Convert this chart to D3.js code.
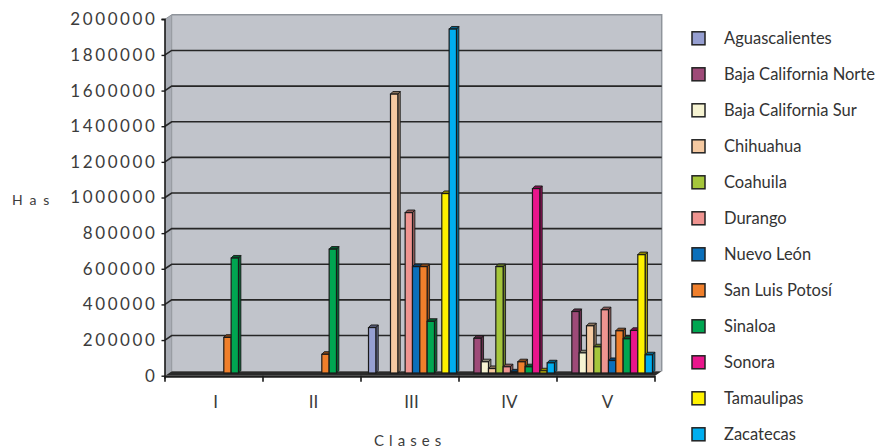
<!DOCTYPE html>
<html>
<head>
<meta charset="utf-8">
<script src="https://cdn.jsdelivr.net/npm/d3@7"></script>
<style>
  html, body { margin: 0; padding: 0; background: #ffffff; }
  svg { display: block; }
  text { font-family: Lato, "Open Sans", sans-serif; }
</style>
</head>
<body>
<svg id="chart" width="880" height="448"></svg>
<script>
// Clases de tierra (eje X)
const clases = ["I", "II", "III", "IV", "V"];

// Estados (series)
const estados = [
  "Aguascalientes", "Baja California Norte", "Baja California Sur", "Chihuahua",
  "Coahuila", "Durango", "Nuevo León", "San Luis Potosí",
  "Sinaloa", "Sonora", "Tamaulipas", "Zacatecas"
];
const colores = [
  "#969fd1", "#9e4a78", "#f6f3d2", "#f5c9a1",
  "#a5c63b", "#ef9490", "#0b6fba", "#f07f2b",
  "#00a651", "#e9168c", "#fff200", "#00aeef"
];

// Hectáreas por clase, en el orden de los estados
const valoresI   = [0, 0, 0, 0, 0, 0, 0, 200000, 645000, 0, 0, 0];
const valoresII  = [0, 0, 0, 0, 0, 0, 0, 105000, 695000, 0, 0, 0];
const valoresIII = [255000, 0, 0, 1565000, 0, 900000, 597000, 597000, 290000, 0, 1007000, 1930000];
const valoresIV  = [0, 195000, 63000, 25000, 597000, 35000, 6000, 63000, 35000, 1035000, 12000, 57000];
const valoresV   = [0, 345000, 113000, 265000, 147000, 355000, 70000, 237000, 192000, 239000, 664000, 102000];

const yTicks = [0, 200000, 400000, 600000, 800000, 1000000, 1200000, 1400000, 1600000, 1800000, 2000000];

const tabla = [valoresI, valoresII, valoresIII, valoresIV, valoresV].map((vals, ci) =>
  vals.map((v, si) => ({ clase: clases[ci], estado: estados[si], valor: v, color: colores[si] }))
);

const svg = d3.select("#chart");

// Plano frontal y profundidad de la caja 3D
const x0 = 165, x1 = 655;
const yBase = 375.7, yTop = 19.3;
const depth = { dx: 6.7, dy: -4.5 };     // fondo de la caja
const mid = { dx: 3.0, dy: -2.7 };       // plano de las columnas
const barDepth = { dx: 2.4, dy: -2.6 };  // grosor de cada columna

const x = d3.scaleBand().domain(clases).range([x0, x1]).paddingInner(0).paddingOuter(0);
const xs = d3.scaleBand().domain(estados).range([4.5, 4.5 + 12 * 7.33]).paddingInner(0);
const y = d3.scaleLinear().domain([0, 2000000]).range([yBase, yTop]);

// Pared lateral
svg.append("polygon")
  .attr("points", [[x0, yBase], [x0, yTop], [x0 + depth.dx, yTop + depth.dy], [x0 + depth.dx, yBase + depth.dy]].join(" "))
  .attr("fill", "#a9adb5");

// Pared del fondo
svg.append("rect")
  .attr("x", x0 + depth.dx).attr("y", yTop + depth.dy)
  .attr("width", x1 - x0).attr("height", yBase - yTop)
  .attr("fill", "#c1c4cb");
svg.append("path")
  .attr("d", `M${x0 + depth.dx},${yTop + depth.dy}H${x1 + depth.dx}V${yBase + depth.dy}`)
  .attr("fill", "none").attr("stroke", "#8f949b").attr("stroke-width", 1.5);
svg.append("line")
  .attr("x1", x0 + depth.dx).attr("x2", x0 + depth.dx)
  .attr("y1", yTop + depth.dy).attr("y2", yBase + depth.dy)
  .attr("stroke", "#8f949b").attr("stroke-width", 1);
svg.append("line")
  .attr("x1", x0).attr("y1", yTop).attr("x2", x0 + depth.dx).attr("y2", yTop + depth.dy)
  .attr("stroke", "#8f949b").attr("stroke-width", 1);

// Líneas de cuadrícula
svg.append("g").selectAll("path")
  .data(yTicks.filter(t => t > 0 && t < 2000000))
  .join("path")
  .attr("d", t => `M${x0},${y(t)}L${x0 + depth.dx},${y(t) + depth.dy}H${x1 + depth.dx}`)
  .attr("fill", "none").attr("stroke", "#262626").attr("stroke-width", 1.6);

// Piso
svg.append("polygon")
  .attr("points", [[x0, yBase], [x1, yBase], [x1 + depth.dx, yBase + depth.dy], [x0 + depth.dx, yBase + depth.dy]].join(" "))
  .attr("fill", "#2a2a2a");
svg.append("line")
  .attr("x1", x0).attr("x2", x1).attr("y1", yBase + 1).attr("y2", yBase + 1)
  .attr("stroke", "#1e1e1e").attr("stroke-width", 2);

// Columnas
const grupos = svg.append("g").selectAll("g")
  .data(tabla)
  .join("g")
  .attr("transform", d => `translate(${x(d[0].clase) + mid.dx},${mid.dy})`);

grupos.each(function (fila) {
  const g = d3.select(this);
  fila.filter(d => d.valor > 0).forEach(d => {
    const bx = xs(d.estado), bw = xs.bandwidth();
    const top = y(d.valor), bot = y(0);
    const c = d3.color(d.color);
    const col = g.append("g");
    // cara lateral
    col.append("polygon")
      .attr("points", [[bx + bw, bot], [bx + bw, top], [bx + bw + barDepth.dx, top + barDepth.dy], [bx + bw + barDepth.dx, bot + barDepth.dy]].join(" "))
      .attr("fill", c.darker(1.3)).attr("stroke", "#1a1a1a").attr("stroke-width", 0.9).attr("stroke-linejoin", "round");
    // cara superior
    col.append("polygon")
      .attr("points", [[bx, top], [bx + bw, top], [bx + bw + barDepth.dx, top + barDepth.dy], [bx + barDepth.dx, top + barDepth.dy]].join(" "))
      .attr("fill", c.darker(1.6)).attr("stroke", "#1a1a1a").attr("stroke-width", 0.9).attr("stroke-linejoin", "round");
    // cara frontal
    col.append("rect")
      .attr("x", bx).attr("y", top).attr("width", bw).attr("height", bot - top)
      .attr("fill", d.color).attr("stroke", "#1a1a1a").attr("stroke-width", 1.2);
  });
});

// Eje Y
const ejeY = svg.append("g")
  .attr("transform", `translate(${x0},0)`)
  .call(d3.axisLeft(y).tickValues(yTicks).tickSize(3.5).tickPadding(4).tickFormat(d3.format("d")));
ejeY.select(".domain").attr("stroke", "#1a1a1a").attr("stroke-width", 1.6)
  .attr("d", `M-3.5,${yTop}H0V${yBase + 3}`);
ejeY.selectAll(".tick line").attr("stroke", "#1a1a1a").attr("stroke-width", 1.4);
ejeY.selectAll(".tick text")
  .attr("fill", "#3c3c3c").attr("font-size", 17).attr("letter-spacing", "2.6px")
  .style("font-family", "Lato, sans-serif");

// Eje X
const ejeX = svg.append("g")
  .attr("transform", `translate(0,${yBase})`)
  .call(d3.axisBottom(x).tickSize(0).tickPadding(20));
ejeX.select(".domain").remove();
ejeX.selectAll(".tick text")
  .attr("fill", "#3c3c3c").attr("font-size", 17).attr("dx", 1.5)
  .style("font-family", "Lato, sans-serif");
ejeX.append("g").selectAll("line")
  .data(clases.map(c => x(c)).concat([x1]))
  .join("line")
  .attr("x1", d => d).attr("x2", d => d).attr("y1", 0).attr("y2", 6)
  .attr("stroke", "#1a1a1a").attr("stroke-width", 1.6);

// Títulos de los ejes
svg.append("text")
  .attr("x", 12).attr("y", 204.5)
  .attr("font-size", 14).attr("fill", "#3c3c3c").attr("letter-spacing", "1.6px")
  .text("H a s");
svg.append("text")
  .attr("x", 374).attr("y", 446)
  .attr("font-size", 15).attr("fill", "#3c3c3c").attr("letter-spacing", "0.6px")
  .text("C l a s e s");

// Leyenda
const leyenda = svg.append("g").selectAll("g")
  .data(estados)
  .join("g")
  .attr("transform", (d, i) => `translate(692,${38.3 + i * 36})`);
leyenda.append("rect")
  .attr("x", 0).attr("y", -6.5).attr("width", 13).attr("height", 13)
  .attr("fill", (d, i) => colores[i]).attr("stroke", "#222").attr("stroke-width", 1.5);
leyenda.append("text")
  .attr("x", 32).attr("y", 5.5)
  .attr("font-size", 16.5).attr("fill", "#333")
  .text(d => d);
</script>
</body>
</html>
